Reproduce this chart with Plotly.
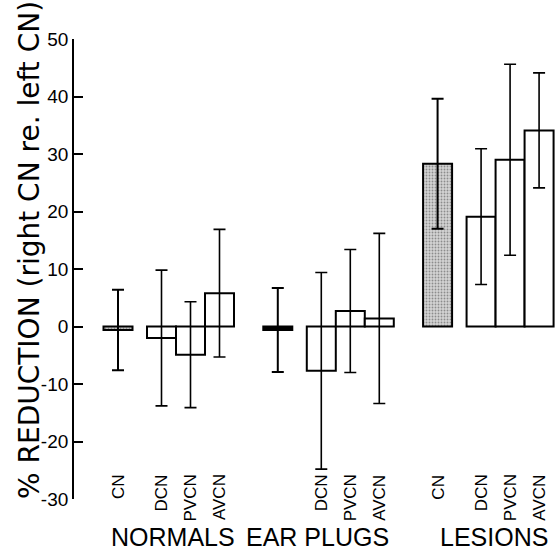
import plotly.graph_objects as go

groups = ["NORMALS", "EAR PLUGS", "LESIONS"]
subregions = ["CN", "DCN", "PVCN", "AVCN"]
normals_mean = [-0.6, -2.0, -4.9, 5.8]
normals_err = [7.0, 11.8, 9.2, 11.1]
earplugs_mean = [-0.6, -7.7, 2.7, 1.4]
earplugs_err = [7.3, 17.1, 10.7, 14.8]
lesions_mean = [28.3, 19.1, 29.0, 34.1]
lesions_err = [11.3, 11.8, 16.6, 10.0]
earplugs_labels = ["", "DCN", "PVCN", "AVCN"]
y_ticks = [-30, -20, -10, 0, 10, 20, 30, 40, 50]
y_title = "% REDUCTION (right CN re. left CN)"

FONT = "Liberation Sans"
TFONT = "DejaVu Sans"
sub_offset = [0.0, 1.5, 2.5, 3.5]
group_step = 5.51
PX = 29.0  # pixels per x unit
L, R, T, B = 74, 1, 39, 53
W, H = 558, 552
plot_w = W - L - R
plot_h = H - T - B
x0 = -(118 - L) / PX

means = [normals_mean, earplugs_mean, lesions_mean]
errs = [normals_err, earplugs_err, lesions_err]
labels = [subregions, earplugs_labels, subregions]

def px_x(p):
    return (p - L) / plot_w

def px_y(p):
    return (H - B - p) / plot_h

fig = go.Figure()
stipple = dict(color="#cccccc", line=dict(color="black", width=2),
               pattern=dict(shape=".", fgcolor="#444444", bgcolor="#d4d4d4", size=3, solidity=0.3))
cn_styles = [stipple, dict(color="black", line=dict(color="black", width=2)), stipple]
for g in range(3):
    xs = [g * group_step + o for o in sub_offset]
    fig.add_trace(go.Bar(
        x=[xs[0]], y=[means[g][0]], width=1.0,
        marker=cn_styles[g],
        error_y=dict(type="data", array=[errs[g][0]], color="black", thickness=2, width=6),
        showlegend=False, hoverinfo="skip",
    ))
    fig.add_trace(go.Bar(
        x=xs[1:], y=means[g][1:], width=1.0,
        marker=dict(color="white", line=dict(color="black", width=2)),
        error_y=dict(type="data", array=errs[g][1:], color="black", thickness=1.6, width=6),
        showlegend=False, hoverinfo="skip",
    ))
    for xv, lab in zip(xs, labels[g]):
        if lab:
            fig.add_annotation(x=xv, y=-25.4, xref="x", yref="y", text=lab,
                               textangle=-90, showarrow=False, xanchor="center",
                               yanchor="top", font=dict(family=FONT, size=17, color="black"))

group_px = [173, 317, 494]
for name, px in zip(groups, group_px):
    fig.add_annotation(x=px_x(px), y=px_y(537), xref="paper", yref="paper",
                       text=name, showarrow=False, xanchor="center", yanchor="middle",
                       font=dict(family=FONT, size=25, color="black"))

fig.add_annotation(x=px_x(29), y=px_y(250), xref="paper", yref="paper",
                   text=y_title, textangle=-90, showarrow=False, xanchor="center",
                   yanchor="middle", font=dict(family=TFONT, size=28, color="black"))

fig.update_layout(
    width=W, height=H,
    margin=dict(l=L, r=R, t=T, b=B, pad=0),
    plot_bgcolor="white", paper_bgcolor="white",
    barmode="overlay",
    xaxis=dict(visible=False, range=[x0, x0 + plot_w / PX]),
    yaxis=dict(range=[-30, 50], tickvals=y_ticks, ticktext=[str(v) for v in y_ticks],
               ticks="inside", ticklen=9, tickwidth=1.6, tickcolor="black",
               showline=True, linecolor="black", linewidth=1.8, showgrid=False,
               zeroline=False, tickfont=dict(family=FONT, size=19, color="black")),
)
fig.write_html("out.html", config={"displayModeBar": False},
               post_script="document.body.style.margin='0px';document.body.style.overflow='hidden';")
